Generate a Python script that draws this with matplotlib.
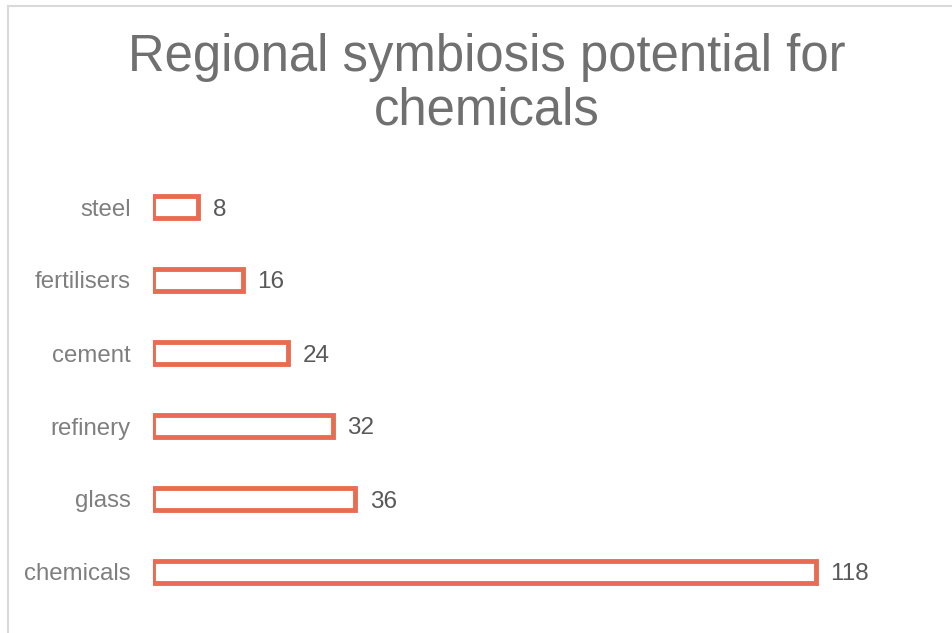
import matplotlib
matplotlib.use('Agg')
import matplotlib.pyplot as plt
from matplotlib.lines import Line2D

categories = ['chemicals', 'glass', 'refinery', 'cement', 'fertilisers', 'steel']
values = [118, 36, 32, 24, 16, 8]

plt.rcParams['font.family'] = ['Liberation Sans', 'DejaVu Sans']

W, H = 953, 633
fig = plt.figure(figsize=(W / 100, H / 100), dpi=100)

# axes placed in pixel terms
left, right = 153, 883
top, bottom = 170.5, 608.5
ax = fig.add_axes([left / W, 1 - bottom / H, (right - left) / W, (bottom - top) / H])

bar_color = '#E96C52'
ypos = list(range(len(categories)))
ax.barh(ypos, values, height=0.3, color='white', edgecolor=bar_color, linewidth=3.5)

ax.set_xlim(0, 130)
ax.set_ylim(-0.5, len(categories) - 0.5)
ax.set_yticks(ypos)
ax.set_yticklabels(categories, fontsize=17.3, color='#7f7f7f')
ax.tick_params(axis='y', length=0, pad=16)
ax.set_xticks([])
for s in ax.spines.values():
    s.set_visible(False)

for y, v in zip(ypos, values):
    ax.annotate(str(v), xy=(v, y), xytext=(10.5, 0), textcoords='offset points',
                ha='left', va='center_baseline', fontsize=17.5, color='#595959')

fig.suptitle('Regional symbiosis potential for\nchemicals', fontsize=36.6,
             color='#707070', x=487 / W, y=1 - 33 / H, va='top', linespacing=1.12)

# chart area border (top and left visible)
fig.add_artist(Line2D([8 / W, 8 / W], [0, 1 - 6 / H], color='#d9d9d9', linewidth=1.5))
fig.add_artist(Line2D([8 / W, 1], [1 - 6 / H, 1 - 6 / H], color='#d9d9d9', linewidth=1.5))

fig.savefig('out.png', dpi=100)
